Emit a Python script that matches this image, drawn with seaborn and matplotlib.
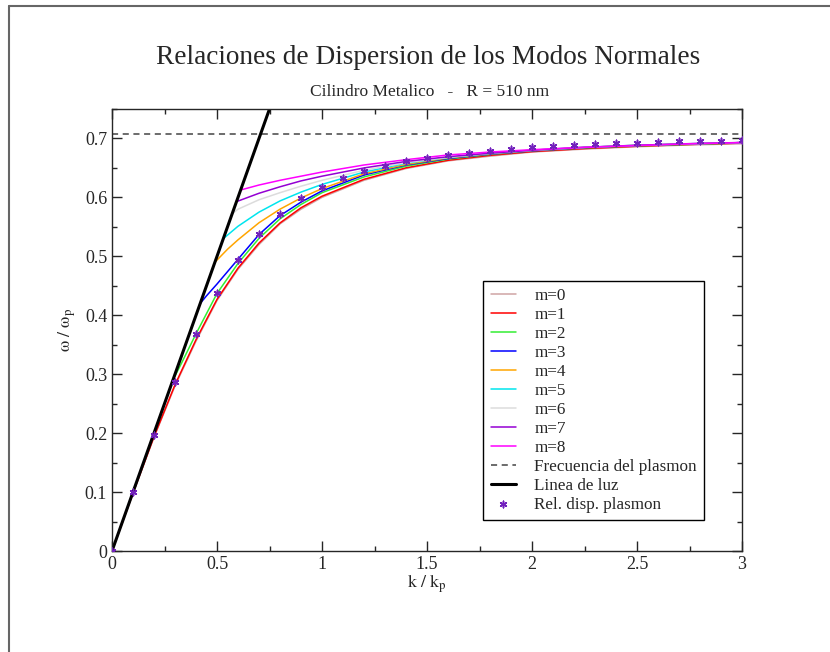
import numpy as np
import pandas as pd
import seaborn as sns
import matplotlib.pyplot as plt
from matplotlib.lines import Line2D
from matplotlib.ticker import MultipleLocator, FuncFormatter

# Data (k / kp, w / wp)
k_m0 = [0, 0.1, 0.2, 0.3, 0.4, 0.5, 0.6, 0.7, 0.8, 0.9, 1.0, 1.2, 1.4, 1.6, 1.8, 2.0, 2.25, 2.5, 2.75, 3.0]
w_m0 = [0, 0.098, 0.193, 0.280, 0.356, 0.425, 0.478, 0.520, 0.555, 0.580, 0.600, 0.629, 0.649, 0.662, 0.670, 0.677, 0.682, 0.686, 0.689, 0.691]

k_m1 = [0, 0.1, 0.2, 0.3, 0.4, 0.5, 0.6, 0.7, 0.8, 0.9, 1.0, 1.2, 1.4, 1.6, 1.8, 2.0, 2.25, 2.5, 2.75, 3.0]
w_m1 = [0, 0.0985, 0.194, 0.282, 0.3585, 0.427, 0.480, 0.5225, 0.5566, 0.5824, 0.602, 0.6307, 0.6502, 0.663, 0.6714, 0.6777, 0.6829, 0.6868, 0.6898, 0.6922]

k_m2 = [0.29, 0.33, 0.4, 0.5, 0.6, 0.7, 0.8, 0.9, 1.0, 1.2, 1.4, 1.6, 1.8, 2.0, 2.25, 2.5, 2.75, 3.0]
w_m2 = [0.29, 0.318, 0.3685, 0.437, 0.488, 0.5305, 0.5636, 0.588, 0.608, 0.6347, 0.653, 0.665, 0.673, 0.679, 0.684, 0.6875, 0.690, 0.6925]

k_m3 = [0.42, 0.45, 0.5, 0.55, 0.6, 0.7, 0.8, 0.9, 1.0, 1.2, 1.4, 1.6, 1.8, 2.0, 2.25, 2.5, 2.75, 3.0]
w_m3 = [0.42, 0.433, 0.453, 0.474, 0.495, 0.537, 0.569, 0.592, 0.611, 0.638, 0.655, 0.666, 0.6735, 0.679, 0.6845, 0.688, 0.6905, 0.693]

k_m4 = [0.49, 0.55, 0.6, 0.7, 0.8, 0.9, 1.0, 1.2, 1.4, 1.6, 1.8, 2.0, 2.25, 2.5, 2.75, 3.0]
w_m4 = [0.49, 0.512, 0.528, 0.557, 0.580, 0.599, 0.615, 0.640, 0.656, 0.667, 0.674, 0.6795, 0.6848, 0.6883, 0.6907, 0.693]

k_m5 = [0.53, 0.6, 0.7, 0.8, 0.9, 1.0, 1.2, 1.4, 1.6, 1.8, 2.0, 2.25, 2.5, 2.75, 3.0]
w_m5 = [0.53, 0.551, 0.575, 0.594, 0.609, 0.622, 0.643, 0.658, 0.668, 0.6745, 0.680, 0.685, 0.6885, 0.691, 0.693]

k_m6 = [0.575, 0.6, 0.7, 0.8, 0.9, 1.0, 1.2, 1.4, 1.6, 1.8, 2.0, 2.25, 2.5, 2.75, 3.0]
w_m6 = [0.573, 0.580, 0.596, 0.608, 0.619, 0.629, 0.646, 0.659, 0.668, 0.675, 0.680, 0.685, 0.6885, 0.691, 0.693]

k_m7 = [0.594, 0.7, 0.8, 0.9, 1.0, 1.2, 1.4, 1.6, 1.8, 2.0, 2.25, 2.5, 2.75, 3.0]
w_m7 = [0.593, 0.607, 0.618, 0.628, 0.636, 0.650, 0.661, 0.669, 0.675, 0.680, 0.685, 0.6885, 0.6912, 0.6932]

k_m8 = [0.617, 0.7, 0.8, 0.9, 1.0, 1.2, 1.4, 1.6, 1.8, 2.0, 2.25, 2.5, 2.75, 3.0]
w_m8 = [0.613, 0.621, 0.629, 0.636, 0.643, 0.655, 0.664, 0.672, 0.677, 0.681, 0.685, 0.688, 0.691, 0.693]

plasmon_freq = 0.7071

light_k = [0, 0.75]
light_w = [0, 0.75]

spp_k = [0, 0.1, 0.2, 0.3, 0.4, 0.5, 0.6, 0.7, 0.8, 0.9, 1.0, 1.1, 1.2, 1.3, 1.4, 1.5,
         1.6, 1.7, 1.8, 1.9, 2.0, 2.1, 2.2, 2.3, 2.4, 2.5, 2.6, 2.7, 2.8, 2.9, 3.0]
spp_w = [0, 0.0995, 0.196, 0.2863, 0.3675, 0.437, 0.4938, 0.5385, 0.5726, 0.5984, 0.618,
         0.6331, 0.6447, 0.6539, 0.6612, 0.6672, 0.672, 0.6761, 0.6794, 0.6823, 0.6847,
         0.6868, 0.6886, 0.6902, 0.6916, 0.6928, 0.6939, 0.6949, 0.6957, 0.6965, 0.6972]

modes = [
    ("m=0", k_m0, w_m0, "#d0a4a4"),
    ("m=1", k_m1, w_m1, "#ff0000"),
    ("m=2", k_m2, w_m2, "#33ee33"),
    ("m=3", k_m3, w_m3, "#0000ff"),
    ("m=4", k_m4, w_m4, "#ffa500"),
    ("m=5", k_m5, w_m5, "#00e5ee"),
    ("m=6", k_m6, w_m6, "#dcdcdc"),
    ("m=7", k_m7, w_m7, "#9400d3"),
    ("m=8", k_m8, w_m8, "#ff00ff"),
]

sns.set_style("ticks")
plt.rcParams["font.family"] = ["Liberation Serif", "DejaVu Serif"]
plt.rcParams["mathtext.fontset"] = "stix"

fig = plt.figure(figsize=(8.3, 6.52), dpi=100)
ax = fig.add_axes([112 / 830, 1 - 551 / 652, 630 / 830, 442 / 652])

for name, kk, ww, col in modes:
    sns.lineplot(x=kk, y=ww, color=col, lw=1.1, label=name, ax=ax, sort=False)

ax.axhline(plasmon_freq, color="#444444", ls=(0, (4, 3)), lw=1.1, label="Frecuencia del plasmon")
sns.lineplot(x=light_k, y=light_w, color="black", lw=2.2, label="Linea de luz", ax=ax)
sns.scatterplot(x=spp_k, y=spp_w, marker=(6, 2, 0), s=22, linewidth=1.1,
                color="#7221bc", label="Rel. disp. plasmon", ax=ax, zorder=5)

ax.set_xlim(0, 3)
ax.set_ylim(0, 0.75)
ax.xaxis.set_major_locator(MultipleLocator(0.5))
ax.xaxis.set_minor_locator(MultipleLocator(0.25))
ax.yaxis.set_major_locator(MultipleLocator(0.1))
ax.yaxis.set_minor_locator(MultipleLocator(0.05))
fmt = FuncFormatter(lambda v, p: "%g" % round(v, 3))
ax.xaxis.set_major_formatter(fmt)
ax.yaxis.set_major_formatter(fmt)
ax.tick_params(which="both", direction="in", top=True, right=True, labelsize=13, width=1, pad=3.5)
ax.tick_params(which="major", length=7.5)
ax.tick_params(which="minor", length=3.8)
for sp in ax.spines.values():
    sp.set_linewidth(1)
    sp.set_visible(True)

ax.set_xlabel(r"$\mathrm{k\ /\ k_p}$", fontsize=13, labelpad=0)
ax.set_ylabel(r"$\mathrm{\omega\ /\ \omega_p}$", fontsize=13, labelpad=5)

leg = ax.legend(loc="lower right", bbox_to_anchor=(0.9397, 0.0701), borderaxespad=0,
                frameon=True, fancybox=False, edgecolor="black", framealpha=1,
                fontsize=12.3, labelspacing=0.175, handlelength=1.5, handletextpad=1.05,
                borderpad=0.42)
leg.get_frame().set_linewidth(1)

fig.text(428 / 830, 1 - 57 / 652, "Relaciones de Dispersion de los Modos Normales",
         ha="center", va="center", fontsize=19.6)
fig.text(430 / 830, 1 - 92 / 652, "Cilindro Metalico   -   R = 510 nm",
         ha="center", va="center", fontsize=12.5)

# page border (left and top edges visible)
fig.add_artist(Line2D([9 / 830, 9 / 830], [0, 1 - 6 / 652], transform=fig.transFigure, color="#666666", lw=1.5))
fig.add_artist(Line2D([9 / 830, 1], [1 - 6 / 652, 1 - 6 / 652], transform=fig.transFigure, color="#666666", lw=1.5))

fig.savefig("out.png", dpi=100)
plt.close(fig)
